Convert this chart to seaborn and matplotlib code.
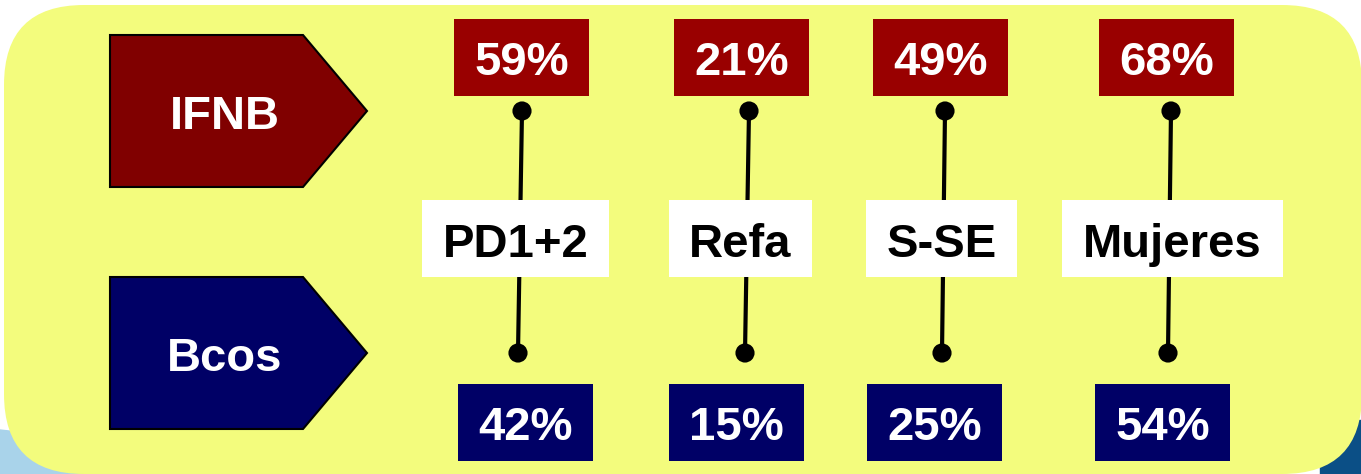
"""IFNB vs Bcos comparison panel."""

import matplotlib
matplotlib.use("Agg")
import matplotlib.pyplot as plt
from matplotlib.patches import FancyBboxPatch, Polygon, Rectangle
import pandas as pd
import seaborn as sns

CATEGORIES = ["PD1+2", "Refa", "S-SE", "Mujeres"]
IFNB_PCT = [59, 21, 49, 68]
BCOS_PCT = [42, 15, 25, 54]
SERIES = ["IFNB", "Bcos"]

# layout (pixels)
TOP_X = [522, 749, 945, 1171]
BOT_X = [518, 745, 942, 1168]
TOP_BOX_X = [(454, 589), (674, 809), (873, 1008), (1099, 1234)]
BOT_BOX_X = [(458, 593), (669, 804), (867, 1002), (1095, 1230)]
LABEL_BOX_X = [(422, 609), (669, 812), (866, 1017), (1062, 1283)]

YELLOW = "#f3fc7d"
RED_ARROW = "#800000"
RED_BOX = "#990000"
NAVY = "#000066"
FONT = "Liberation Sans"
FS = 34

sns.set_style("white")
plt.rcParams["font.family"] = [FONT, "DejaVu Sans"]

fig = plt.figure(figsize=(13.61, 4.74), dpi=100)
ax = fig.add_axes([0, 0, 1, 1])
ax.set_xlim(0, 1361)
ax.set_ylim(474, 0)
ax.set_axis_off()

# background bits peeking out at the bottom corners
ax.add_patch(Polygon([(0, 430), (90, 440), (90, 474), (0, 474)], color="#a9d3ea", zorder=0))
ax.add_patch(Polygon([(1320, 420), (1361, 420), (1361, 474), (1320, 474)], color="#0b4f86", zorder=0))

ax.add_patch(FancyBboxPatch((4, 5), 1358, 469, boxstyle="round,pad=0,rounding_size=80",
                            facecolor=YELLOW, edgecolor="none", zorder=1))

# series arrows
for name, color, (y0, y1) in zip(SERIES, [RED_ARROW, NAVY], [(35, 187), (277, 429)]):
    ym = (y0 + y1) / 2
    ax.add_patch(Polygon([(110, y0), (303, y0), (367, ym), (303, y1), (110, y1)],
                         closed=True, facecolor=color, edgecolor="black", lw=1.5, zorder=2))
    ax.text(225, ym + 18, name, color="white", fontsize=FS, fontweight="bold",
            ha="center", va="baseline", zorder=3)

# connectors and dots
rows = []
for cat, xt, xb in zip(CATEGORIES, TOP_X, BOT_X):
    rows.append({"category": cat, "x": xt, "y": 111, "series": "IFNB"})
    rows.append({"category": cat, "x": xb, "y": 353, "series": "Bcos"})
df = pd.DataFrame(rows)

sns.lineplot(data=df, x="x", y="y", units="category", estimator=None, sort=False,
             color="black", lw=3, ax=ax, zorder=3, legend=False)
sns.scatterplot(data=df, x="x", y="y", color="black", s=190, edgecolor="none",
                ax=ax, zorder=4, legend=False)
ax.set_xlim(0, 1361)
ax.set_ylim(474, 0)
ax.set_axis_off()

for cat, ifnb, bcos, tb, bb, lb in zip(CATEGORIES, IFNB_PCT, BCOS_PCT,
                                       TOP_BOX_X, BOT_BOX_X, LABEL_BOX_X):
    ax.add_patch(Rectangle((tb[0], 19), tb[1] - tb[0], 77, facecolor=RED_BOX,
                           edgecolor="none", zorder=5))
    ax.text((tb[0] + tb[1]) / 2, 75, f"{ifnb}%", color="white", fontsize=FS,
            fontweight="bold", ha="center", va="baseline", zorder=6)

    ax.add_patch(Rectangle((bb[0], 384), bb[1] - bb[0], 77, facecolor=NAVY,
                           edgecolor="none", zorder=5))
    ax.text((bb[0] + bb[1]) / 2, 440, f"{bcos}%", color="white", fontsize=FS,
            fontweight="bold", ha="center", va="baseline", zorder=6)

    ax.add_patch(Rectangle((lb[0], 200), lb[1] - lb[0], 77, facecolor="white",
                           edgecolor="none", zorder=5))
    ax.text((lb[0] + lb[1]) / 2, 257, cat, color="black", fontsize=FS,
            fontweight="bold", ha="center", va="baseline", zorder=6)

fig.savefig("out.png", dpi=100, facecolor="white")
